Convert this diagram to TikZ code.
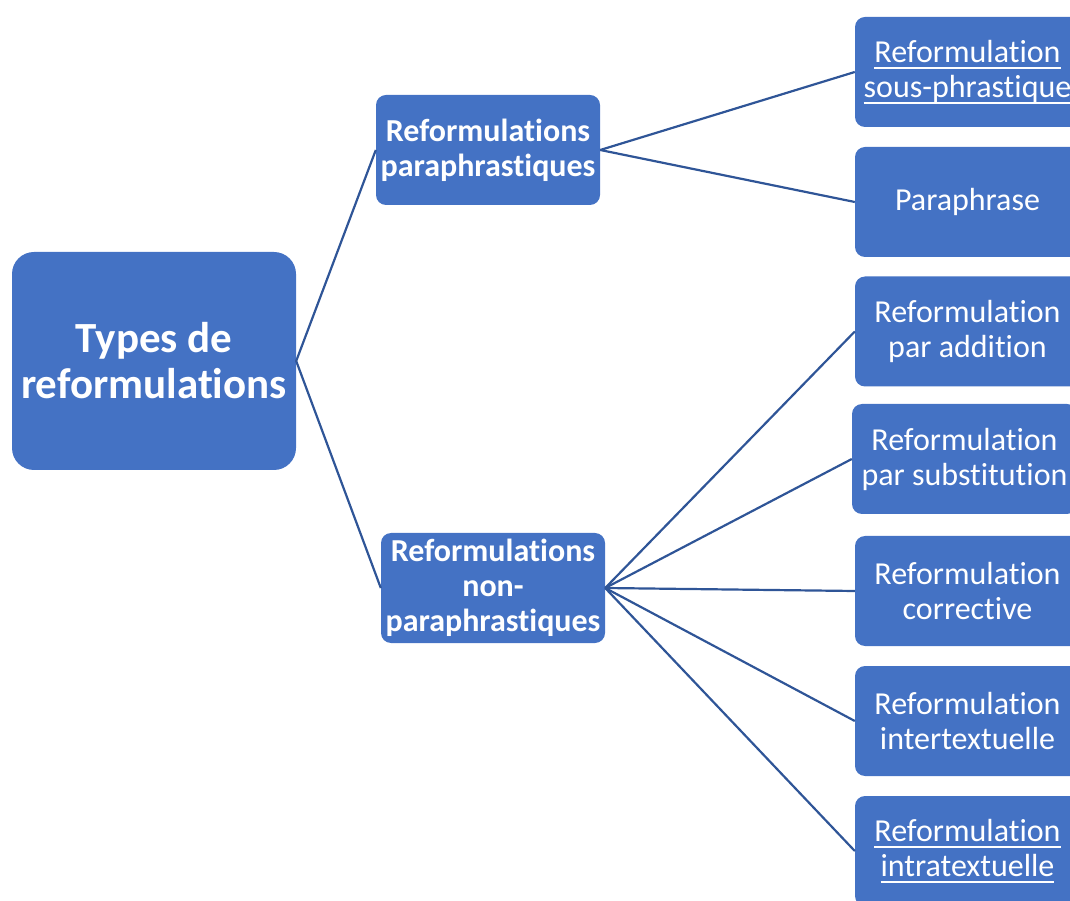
\documentclass[tikz,border=0pt]{standalone}
\usepackage{fontspec}
\setmainfont{Carlito}[Ligatures=NoCommon]
\definecolor{boxblue}{RGB}{68,114,196}
\definecolor{lineblue}{RGB}{47,85,151}
\newcommand\ulx[1]{\setbox0\hbox{#1}\rlap{\rule[-6pt]{\wd0}{2pt}}\box0}
\begin{document}
\begin{tikzpicture}[x=1pt,y=1pt,
  box/.style={fill=boxblue, draw=none, text=white, align=center, inner sep=0pt},
  rootbox/.style={box, minimum width=284pt, minimum height=218pt, rounded corners=22pt,
    font=\fontsize{43}{46}\selectfont\bfseries},
  midbox/.style={box, minimum width=224pt, minimum height=110pt, rounded corners=10pt,
    font=\fontsize{32}{35}\selectfont\bfseries},
  leafbox/.style={box, minimum width=225pt, minimum height=110pt, rounded corners=10pt,
    font=\fontsize{32}{35}\selectfont},
  link/.style={draw=lineblue, line width=2.2pt}]
\useasboundingbox (0,0) rectangle (1070,900);
\clip (0,0) rectangle (1070,900);

\node[rootbox] (root) at (154,539) {Types de\\reformulations};
\node[midbox] (para) at (488,750) {Reformulations\\paraphrastiques};
\node[midbox] (nonpara) at (493,312) {Reformulations\\non-\\paraphrastiques};

\node[leafbox] (l1) at (967.5,828) {\ulx{Reformulation}\\\ulx{sous-phrastique}};
\node[leafbox] (l2) at (967.5,698) {Paraphrase};
\node[leafbox] (l3) at (967.5,568.5) {Reformulation\\par addition};
\node[leafbox] (l4) at (964.5,441) {Reformulation\\par substitution};
\node[leafbox] (l5) at (967.5,309) {Reformulation\\corrective};
\node[leafbox] (l6) at (967.5,179) {Reformulation\\intertextuelle};
\node[leafbox] (l7) at (967.5,49) {\ulx{Reformulation}\\\ulx{intratextuelle}};

\draw[link] (para.west) -- (root.east) -- (nonpara.west);
\draw[link] (para.east) -- (l1.west);
\draw[link] (para.east) -- (l2.west);
\foreach \n in {l3,l4,l5,l6,l7}
  \draw[link] (nonpara.east) -- (\n.west);
\end{tikzpicture}
\end{document}
